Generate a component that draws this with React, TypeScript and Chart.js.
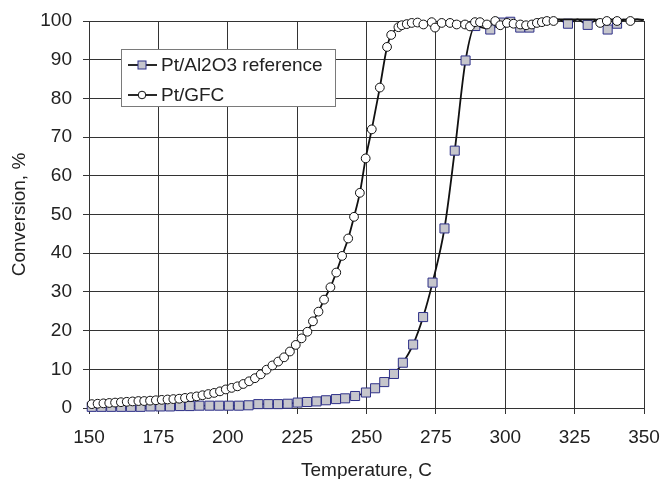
import React, { useEffect, useRef } from "react";
import { Chart, registerables } from "chart.js";

Chart.register(...registerables);

const seriesLabels = ["Pt/Al2O3 reference", "Pt/GFC"];
const xTitle = "Temperature, C";
const yTitle = "Conversion, %";

// Pt/GFC (circles)
const gfcTemps = [
  151.0, 153.1, 155.2, 157.3, 159.4, 161.5, 163.6, 165.7, 167.8, 169.9,
  172.0, 174.1, 176.2, 178.3, 180.4, 182.5, 184.6, 186.7, 188.8, 190.9,
  193.0, 195.1, 197.2, 199.3, 201.4, 203.5, 205.6, 207.7, 209.8, 211.9,
  214.0, 216.1, 218.2, 220.3, 222.4, 224.5, 226.6, 228.7, 230.7, 232.7,
  234.7, 237.0, 239.1, 241.2, 243.4, 245.5, 247.6, 249.7, 251.9, 254.8,
  257.4, 258.9, 261.5, 262.7, 264.5, 266.3, 268.4, 270.5, 273.5, 274.7,
  277.1, 280.1, 282.5, 285.5, 287.3, 289.1, 290.9, 293.4, 296.4, 298.2,
  300.6, 303.0, 305.4, 307.5, 309.6, 311.4, 313.2, 315.0, 317.4, 319.6,
  321.8, 324.0, 326.2, 328.4, 330.6, 332.4, 334.2, 336.6, 338.5, 340.3,
  342.7, 345.1, 347.5, 349.6,
];
const gfcConv = [
  1.0, 1.1, 1.2, 1.3, 1.4, 1.5, 1.6, 1.7, 1.8, 1.8,
  1.9, 2.0, 2.1, 2.2, 2.3, 2.4, 2.6, 2.8, 3.0, 3.3,
  3.6, 3.9, 4.3, 4.8, 5.2, 5.6, 6.2, 6.9, 7.7, 8.7,
  9.9, 11.0, 12.0, 13.1, 14.6, 16.3, 18.0, 19.7, 22.4, 24.9,
  28.0, 31.2, 35.0, 39.3, 43.8, 49.4, 55.6, 64.5, 72.0, 82.8,
  93.3, 96.4, 98.4, 98.9, 99.2, 99.5, 99.6, 99.1, 99.7, 98.3,
  99.5, 99.5, 99.1, 99.1, 98.6, 99.7, 99.7, 99.1, 100.0, 98.9,
  99.5, 99.3, 99.1, 98.9, 99.1, 99.5, 99.7, 100.0, 100.0, 100.4,
  100.4, 100.4, 100.4, 100.4, 100.4, 100.4, 99.5, 100.0, 100.4, 100.0,
  100.4, 100.0, 100.4, 100.2,
];

// Pt/Al2O3 reference (squares)
const refTemps = [
  151.0, 154.5, 158.0, 161.6, 165.1, 168.6, 172.2, 175.7, 179.2, 182.8,
  186.3, 189.8, 193.4, 196.9, 200.4, 204.0, 207.5, 211.0, 214.6, 218.1,
  221.6, 225.2, 228.6, 232.0, 235.4, 239.0, 242.3, 245.9, 249.8, 253.1,
  256.4, 259.9, 263.1, 266.8, 270.4, 273.8, 278.1, 281.8, 285.7, 289.2,
  294.6, 298.2, 301.8, 305.4, 308.7, 312.2, 315.7, 319.1, 322.6, 326.1,
  329.7, 333.2, 336.9, 340.3, 343.8, 347.3, 350.0,
];
const refConv = [
  0.3, 0.3, 0.3, 0.3, 0.3, 0.3, 0.4, 0.4, 0.4, 0.5,
  0.5, 0.6, 0.6, 0.6, 0.6, 0.6, 0.7, 1.0, 1.0, 1.0,
  1.1, 1.4, 1.55, 1.7, 2.0, 2.3, 2.5, 3.1, 4.0, 5.1,
  6.7, 8.8, 11.7, 16.4, 23.5, 32.4, 46.4, 66.5, 89.8, 98.7,
  97.8, 99.6, 99.8, 98.3, 98.3, 100.4, 100.4, 100.4, 99.3, 100.4,
  99.0, 100.4, 97.8, 99.3, 100.4, 100.4, 100.3,
];

const xMin = 150;
const xMax = 350;
const xStep = 25;
const yMin = 0;
const yMax = 100;
const yStep = 10;

const FONT = "'Liberation Sans', Arial, Helvetica, sans-serif";
const TEXT = "#222222";
const GRID = "#333333";
const SQ_FILL = "#c6c6cc";
const SQ_EDGE = "#2e3088";

const legendPlugin = {
  id: "boxLegend",
  afterDraw(chart: any) {
    const ctx = chart.ctx;
    ctx.save();
    const bx = 121.5, by = 49.5, bw = 214, bh = 57;
    ctx.fillStyle = "#ffffff";
    ctx.fillRect(bx, by, bw, bh);
    ctx.strokeStyle = "#7a7a7a";
    ctx.lineWidth = 1;
    ctx.strokeRect(bx, by, bw, bh);
    const rows = [65, 95];
    rows.forEach((y, i) => {
      ctx.strokeStyle = "#111";
      ctx.lineWidth = 1.8;
      ctx.beginPath();
      ctx.moveTo(128, y);
      ctx.lineTo(157, y);
      ctx.stroke();
      ctx.lineWidth = 1;
      if (i === 0) {
        ctx.fillStyle = SQ_FILL;
        ctx.strokeStyle = SQ_EDGE;
        ctx.fillRect(138, y - 4, 8, 8);
        ctx.strokeRect(138, y - 4, 8, 8);
      } else {
        ctx.fillStyle = "#fff";
        ctx.strokeStyle = "#111";
        ctx.beginPath();
        ctx.arc(142, y, 3.8, 0, Math.PI * 2);
        ctx.fill();
        ctx.stroke();
      }
      ctx.fillStyle = TEXT;
      ctx.font = `19px ${FONT}`;
      ctx.textBaseline = "middle";
      ctx.textAlign = "left";
      ctx.fillText(seriesLabels[i], 161, y + 1);
    });
    ctx.restore();
  },
};

export default function App() {
  const ref = useRef<HTMLCanvasElement | null>(null);
  useEffect(() => {
    document.body.style.margin = "0";
    if (!ref.current) return;
    const hideAbove = (c: any) => (c.raw && c.raw.y > yMax ? 0 : undefined);
    const chart = new Chart(ref.current, {
      type: "line",
      data: {
        datasets: [
          {
            label: seriesLabels[0],
            data: refTemps.map((t, i) => ({ x: t, y: refConv[i] })),
            borderColor: "#111",
            borderWidth: 1.8,
            pointStyle: "rect",
            pointRadius: (c: any) => hideAbove(c) ?? 6.4,
            pointBackgroundColor: SQ_FILL,
            pointBorderColor: SQ_EDGE,
            pointBorderWidth: 1,
            cubicInterpolationMode: "monotone",
            order: 2,
            clip: false,
          },
          {
            label: seriesLabels[1],
            data: gfcTemps.map((t, i) => ({ x: t, y: gfcConv[i] })),
            borderColor: "#111",
            borderWidth: 1.8,
            pointStyle: "circle",
            pointRadius: (c: any) => hideAbove(c) ?? 4.4,
            pointBackgroundColor: "#ffffff",
            pointBorderColor: "#111",
            pointBorderWidth: 1,
            cubicInterpolationMode: "monotone",
            order: 1,
            clip: false,
          },
        ],
      },
      options: {
        responsive: false,
        animation: false,
        events: [],
        layout: { padding: { top: 21, right: 18, left: 0, bottom: 0 } },
        plugins: { legend: { display: false }, tooltip: { enabled: false } },
        scales: {
          x: {
            type: "linear",
            min: xMin,
            max: xMax,
            afterFit: (s: any) => {
              s.height = 71;
              s.paddingLeft = 0;
              s.paddingRight = 0;
            },
            ticks: {
              stepSize: xStep,
              color: TEXT,
              font: { family: FONT, size: 19 },
              padding: 12,
              maxRotation: 0,
            },
            grid: { color: GRID, lineWidth: 1, tickLength: 6, tickColor: GRID },
            border: { color: GRID, width: 1 },
            title: {
              display: true,
              text: xTitle,
              color: TEXT,
              font: { family: FONT, size: 19 },
              padding: { top: 0, bottom: -3 },
            },
          },
          y: {
            type: "linear",
            min: yMin,
            max: yMax,
            afterFit: (s: any) => {
              s.width = 89;
              s.paddingTop = 0;
              s.paddingBottom = 0;
            },
            ticks: {
              stepSize: yStep,
              color: TEXT,
              font: { family: FONT, size: 19 },
              padding: 11,
            },
            grid: { color: GRID, lineWidth: 1, tickLength: 6, tickColor: GRID },
            border: { color: GRID, width: 1 },
            title: {
              display: true,
              text: yTitle,
              color: TEXT,
              font: { family: FONT, size: 19 },
              padding: { top: 8, bottom: 0 },
            },
          },
        },
      },
      plugins: [legendPlugin],
    });
    return () => chart.destroy();
  }, []);
  return (
    <div style={{ width: 662, height: 479 }}>
      <canvas ref={ref} width={662} height={479} style={{ display: "block" }} />
    </div>
  );
}
